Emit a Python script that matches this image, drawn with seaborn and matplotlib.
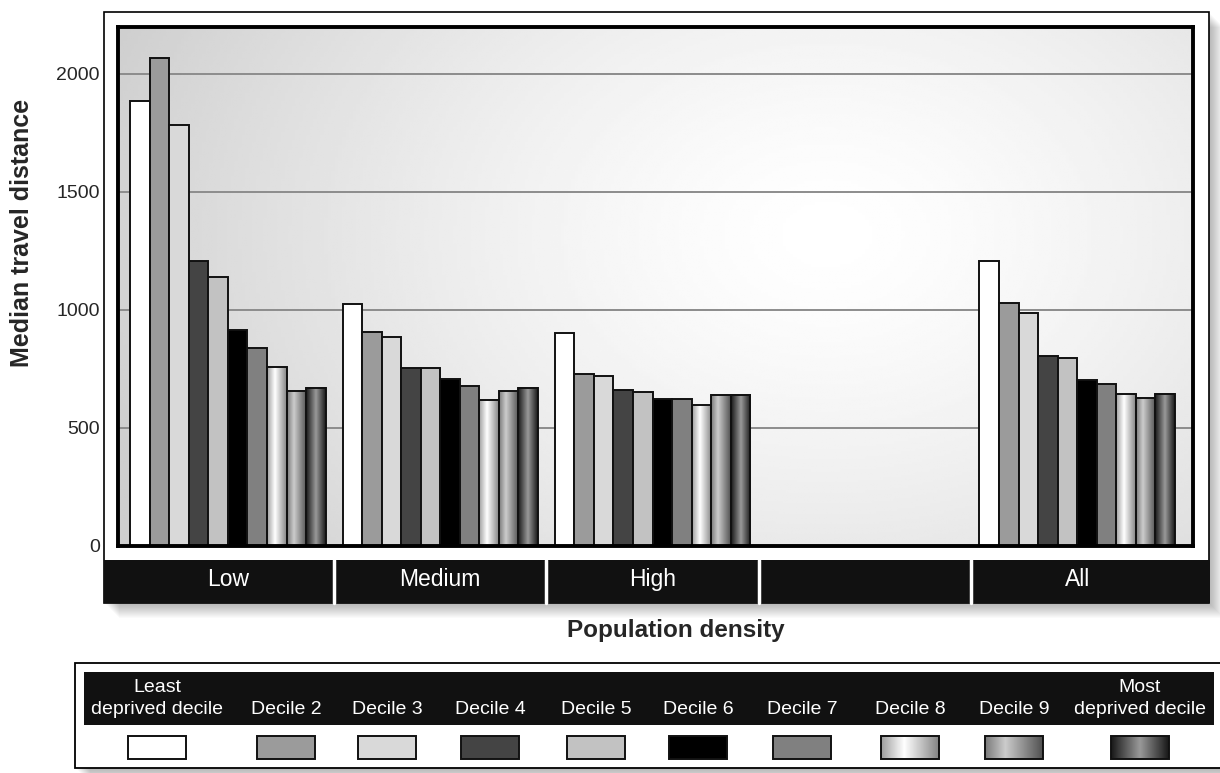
import numpy as np
import pandas as pd
import seaborn as sns
from matplotlib import pyplot as plt
from matplotlib.patches import Rectangle

sns.set_style('white')
plt.rcParams['font.family'] = ['Liberation Sans', 'DejaVu Sans']

W, H = 1220, 773

# Values (median travel distance per deprivation decile)
densities = ['Low', 'Medium', 'High', ' ', 'All']
deciles = ['Least\ndeprived decile', 'Decile 2', 'Decile 3', 'Decile 4', 'Decile 5',
           'Decile 6', 'Decile 7', 'Decile 8', 'Decile 9', 'Most\ndeprived decile']
low = [1883, 2066, 1784, 1208, 1139, 914, 840, 756, 657, 669]
medium = [1024, 904, 884, 753, 753, 706, 679, 620, 655, 669]
high = [901, 730, 720, 662, 650, 621, 621, 596, 640, 640]
all_areas = [1208, 1027, 987, 804, 794, 702, 685, 645, 626, 645]
yticks = [0, 500, 1000, 1500, 2000]

# Fill styles: flat greys, the last three deciles use a shaded (cylinder-like) fill
flat_colors = ['#ffffff', '#9b9b9b', '#d9d9d9', '#444444', '#c2c2c2',
               '#000000', '#808080', '#d0d0d0', '#a0a0a0', '#555555']
t = np.linspace(0, 1, 64)
shades = {
    7: np.interp(t, [0, 0.4, 1], [0.62, 1.0, 0.52]),
    8: np.interp(t, [0, 0.35, 1], [0.48, 0.8, 0.32]),
    9: np.interp(t, [0, 0.5, 1], [0.1, 0.6, 0.1]),
}

df = pd.DataFrame({
    'density': np.repeat(['Low', 'Medium', 'High', 'All'], len(deciles)),
    'decile': deciles * 4,
    'distance': low + medium + high + all_areas,
})

fig = plt.figure(figsize=(W / 100, H / 100), dpi=100)

# Decoration layer in pixel coordinates (frame, category band, legend box)
deco = fig.add_axes([0, 0, 1, 1])
deco.set_xlim(0, W)
deco.set_ylim(H, 0)
deco.axis('off')


def shadow(x0, y0, x1, y1):
    for k in range(2, 16):
        deco.add_patch(Rectangle((x0 + k, y0 + k), x1 - x0, y1 - y0,
                                 color='black', alpha=0.018, lw=0))


shadow(104, 12, 1209, 603)
deco.add_patch(Rectangle((104, 12), 1105, 591, fc='white', ec='black', lw=1.2))
deco.add_patch(Rectangle((104, 560), 1106, 43, fc='#111111', lw=0))

# Main chart
ax = fig.add_axes([118 / W, 1 - 546 / H, (1193 - 118) / W, (546 - 27) / H])
yy, xx = np.mgrid[0:1:200j, 0:1:300j]
d = np.hypot((xx - 0.66) / 0.6, (yy - 0.6) / 0.9)
bg = np.clip(1 - 0.15 * d ** 1.4, 0.81, 1)
ax.imshow(bg, cmap='gray', vmin=0, vmax=1, extent=(0, 1, 0, 1), origin='lower',
          transform=ax.transAxes, aspect='auto', zorder=-10)

sns.barplot(data=df, x='density', y='distance', hue='decile', order=densities,
            hue_order=deciles, palette=dict(zip(deciles, flat_colors)), width=0.92,
            saturation=1, edgecolor='#111111', linewidth=1.4, legend=False, ax=ax)

# shaded bars
for i, cont in enumerate(ax.containers):
    if i not in shades:
        continue
    for bar in cont:
        h = bar.get_height()
        if not np.isfinite(h):
            continue
        x0, w = bar.get_x(), bar.get_width()
        bar.set_facecolor('none')
        ax.imshow(shades[i][None, :], cmap='gray', vmin=0, vmax=1,
                  extent=(x0, x0 + w, 0, h), aspect='auto', zorder=0.9)

ax.set_xlim(-0.518, 4.546)
ax.set_ylim(0, 2197)
ax.set_yticks(yticks)
ax.set_yticklabels([str(v) for v in yticks])
ax.yaxis.grid(True, color='#8c8c8c', lw=1.4)
ax.xaxis.grid(False)
ax.set_axisbelow(True)
ax.tick_params(axis='y', length=0, pad=13, labelsize=14)
ax.tick_params(axis='x', length=0, pad=16, labelsize=16.5, labelcolor='white')
ax.set_xlabel('')
ax.set_ylabel('')
for s in ax.spines.values():
    s.set_visible(True)
    s.set_color('black')
    s.set_linewidth(2.8)

# separators in the category band
for b in [0.5, 1.5, 2.5, 3.5]:
    ax.plot([b, b], [-0.027, -0.11], transform=ax.get_xaxis_transform(),
            color='white', lw=2.5, clip_on=False)

fig.text(22 / W, 1 - 233 / H, 'Median travel distance', rotation=90, ha='center',
         va='center', fontsize=18, fontweight='bold')
fig.text(676 / W, 1 - 630 / H, 'Population density', ha='center', va='center',
         fontsize=17.5, fontweight='bold')

# Legend box
leg_x = [157, 286, 387, 490, 596, 698, 802, 910, 1014, 1140]
shadow(75, 663, 1235, 768)
deco.add_patch(Rectangle((75, 663), 1160, 105, fc='white', ec='black', lw=1.3))
deco.add_patch(Rectangle((84, 672), 1130, 53, fc='#111111', lw=0))
for i, (label, cx) in enumerate(zip(deciles, leg_x)):
    lines = label.split('\n')
    for j, line in enumerate(reversed(lines)):
        deco.text(cx, 709 - 22 * j, line, color='white', ha='center', va='center',
                  fontsize=14)
    x0, y0, sw, sh = cx - 29, 736, 58, 23
    if i in shades:
        deco.imshow(shades[i][None, :], cmap='gray', vmin=0, vmax=1,
                    extent=(x0, x0 + sw, y0 + sh, y0), aspect='auto', zorder=2)
        deco.add_patch(Rectangle((x0, y0), sw, sh, fc='none', ec='#111111', lw=1.4, zorder=3))
    else:
        deco.add_patch(Rectangle((x0, y0), sw, sh, fc=flat_colors[i], ec='#111111', lw=1.4, zorder=3))
deco.set_xlim(0, W)
deco.set_ylim(H, 0)

fig.savefig('out.png', dpi=100)
